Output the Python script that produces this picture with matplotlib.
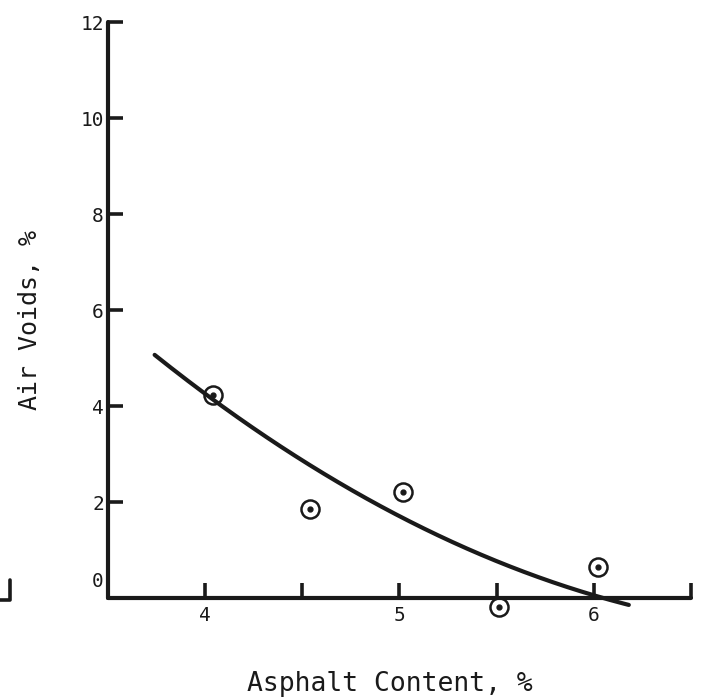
import numpy as np
import matplotlib
matplotlib.use("Agg")
import matplotlib.pyplot as plt
from matplotlib.lines import Line2D

# Measured mixes
asphalt_content = [4.04, 4.54, 5.02, 5.51, 6.02]
air_voids = [4.23, 1.85, 2.21, -0.19, 0.65]

# Points along the drawn trend curve
curve_x = [3.74, 4.04, 4.5, 5.0, 5.5, 6.0, 6.18]
curve_y = [5.02, 4.20, 2.87, 1.67, 0.79, 0.0, -0.10]

x_ticks = [4, 4.5, 5, 5.5, 6, 6.5]
x_tick_labels = ["4", "", "5", "", "6", ""]
y_ticks = [2, 4, 6, 8, 10, 12]
y_tick_labels = ["2", "4", "6", "8", "10", "12"]

FONT = "DejaVu Sans Mono"
INK = "#1a1a1a"

fig = plt.figure(figsize=(7.02, 6.97), dpi=100)
ax = fig.add_axes([108 / 702, 1 - 598 / 697, (691 - 108) / 702, (598 - 22) / 697])
ax.set_xlim(3.5, 6.5)
ax.set_ylim(0, 12)

for side in ("top", "right"):
    ax.spines[side].set_visible(False)
for side in ("left", "bottom"):
    ax.spines[side].set_linewidth(3.0)
    ax.spines[side].set_color(INK)
    ax.spines[side].set_capstyle("round")

ax.set_xticks(x_ticks)
ax.set_xticklabels(x_tick_labels, fontfamily=FONT, fontsize=14, color=INK)
ax.set_yticks(y_ticks)
ax.set_yticklabels(y_tick_labels, fontfamily=FONT, fontsize=14, color=INK)
ax.tick_params(axis="both", direction="in", length=11, width=2.6, color=INK)
ax.tick_params(axis="x", pad=6)
ax.tick_params(axis="y", pad=3)
ax.text(-0.008, 0.028, "0", transform=ax.transAxes, ha="right", va="center",
        fontfamily=FONT, fontsize=14, color=INK)

# Smooth trend curve through the traced points
coef = np.polyfit(curve_x, curve_y, 2)
xs = np.linspace(curve_x[0], curve_x[-1], 200)
ax.plot(xs, np.polyval(coef, xs), color=INK, lw=3.0, solid_capstyle="round",
        clip_on=False, zorder=3)

# Data points: open circle with a centre dot
ax.plot(asphalt_content, air_voids, linestyle="none", marker="o", markersize=13,
        markerfacecolor="none", markeredgecolor=INK, markeredgewidth=1.8,
        clip_on=False, zorder=4)
ax.plot(asphalt_content, air_voids, linestyle="none", marker="o", markersize=3.5,
        color=INK, clip_on=False, zorder=4)

ax.set_xlabel("Asphalt Content, %", fontfamily=FONT, fontsize=19, color=INK)
ax.xaxis.set_label_coords((390 - 108) / (691 - 108), -(671 - 598) / (598 - 22))
ax.set_ylabel("Air Voids, %", fontfamily=FONT, fontsize=18, color=INK)
ax.yaxis.set_label_coords(-(108 - 42) / (691 - 108), (598 - 320) / (598 - 22))

# Corner of a neighbouring frame at the left edge
fig.add_artist(Line2D([10 / 702, 10 / 702, 0], [1 - 580 / 697, 1 - 600 / 697, 1 - 600 / 697],
                      transform=fig.transFigure, color=INK, lw=2.6,
                      solid_capstyle="round", solid_joinstyle="round"))

fig.savefig("out.png", dpi=100)
